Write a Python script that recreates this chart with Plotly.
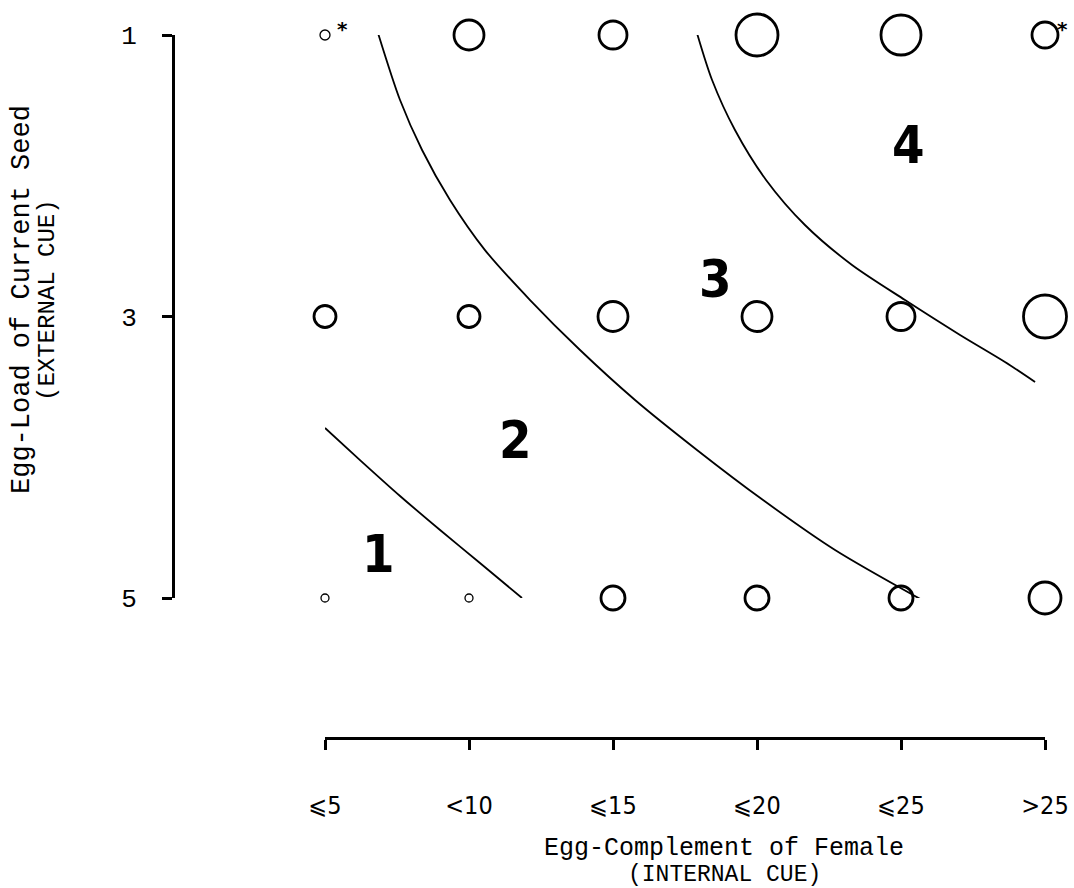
import plotly.graph_objects as go

# Egg-complement classes (internal cue) and egg-load levels (external cue)
complement_labels = ["⩽5", "<10", "⩽15", "⩽20", "⩽25", ">25"]
complement_pos = [0, 1, 2, 3, 4, 5]
load_levels = [1, 3, 5]

# Relative circle sizes for each egg-load row
size_load1 = [10, 30, 28, 42, 40, 26]
size_load3 = [22, 22, 30, 30, 28, 43]
size_load5 = [8, 8, 24, 24, 24, 32]

# Cells flagged with an asterisk
star_x = [0, 5]
star_y = [1, 1]

# Boundary curves between the numbered zones
b12_x = [0.0, 0.243, 0.521, 0.799, 1.076, 1.368]
b12_y = [3.792, 4.020, 4.275, 4.517, 4.751, 5.0]

b23_x = [0.368, 0.521, 0.674, 0.868, 1.111, 1.424, 1.771, 2.153, 2.583, 3.042, 3.542, 4.146]
b23_y = [0.986, 1.462, 1.817, 2.172, 2.528, 2.883, 3.238, 3.593, 3.948, 4.304, 4.659, 5.014]

b34_x = [2.583, 2.688, 2.847, 3.063, 3.333, 3.660, 4.028, 4.410, 4.722, 4.931]
b34_y = [0.986, 1.320, 1.675, 2.030, 2.350, 2.634, 2.883, 3.131, 3.323, 3.465]

# Zone numbers and where they sit
zone_names = ["1", "2", "3", "4"]
zone_x = [0.37, 1.32, 2.715, 4.05]
zone_y = [4.69, 3.88, 2.73, 1.78]

condensed = "DejaVu Sans Condensed, DejaVu Sans, sans-serif"

fig = go.Figure()

row_sizes = [size_load1, size_load3, size_load5]
for level, sizes in zip(load_levels, row_sizes):
    widths = [1.3 if s < 12 else 2.8 for s in sizes]
    fig.add_trace(go.Scatter(
        x=complement_pos,
        y=[level] * len(complement_pos),
        mode="markers",
        marker=dict(symbol="circle-open", size=sizes, color="black", opacity=1,
                    line=dict(color="black", width=widths)),
        cliponaxis=False,
        showlegend=False,
        hoverinfo="skip",
    ))

for bx, by in [(b12_x, b12_y), (b23_x, b23_y), (b34_x, b34_y)]:
    fig.add_trace(go.Scatter(
        x=bx, y=by, mode="lines",
        line=dict(color="black", width=1.8, shape="spline", smoothing=0.8),
        cliponaxis=False,
        showlegend=False,
        hoverinfo="skip",
    ))

for name, zx, zy in zip(zone_names, zone_x, zone_y):
    fig.add_annotation(
        x=zx, y=zy, text=name, showarrow=False,
        xanchor="center", yanchor="middle",
        font=dict(family=condensed, size=52, color="black", weight="bold"),
    )

for sx, sy in zip(star_x, star_y):
    fig.add_annotation(
        x=sx, y=sy, text="*", showarrow=False, xshift=17, yshift=6,
        xanchor="center", yanchor="middle",
        font=dict(family="DejaVu Sans", size=20, color="black", weight="bold"),
    )

# Axis titles
title_font = dict(family="Liberation Mono", color="black")
fig.add_annotation(
    xref="paper", yref="paper", x=22 / 1074, y=1 - 300 / 888,
    xanchor="center", yanchor="middle",
    text="Egg-Load of Current Seed", textangle=-90, showarrow=False,
    font=dict(size=27, **title_font),
)
fig.add_annotation(
    xref="paper", yref="paper", x=47 / 1074, y=1 - 300 / 888,
    xanchor="center", yanchor="middle",
    text="(EXTERNAL CUE)", textangle=-90, showarrow=False,
    font=dict(size=24, **title_font),
)
fig.add_annotation(
    xref="paper", yref="paper", x=724 / 1074, y=1 - 848 / 888,
    xanchor="center", yanchor="middle",
    text="Egg-Complement of Female", showarrow=False,
    font=dict(size=25, **title_font),
)
fig.add_annotation(
    xref="paper", yref="paper", x=724 / 1074, y=1 - 875 / 888,
    xanchor="center", yanchor="middle",
    text="(INTERNAL CUE)", showarrow=False,
    font=dict(size=23, **title_font),
)

fig.update_layout(
    width=1074, height=888,
    margin=dict(l=0, r=0, t=0, b=0, pad=0, autoexpand=False),
    paper_bgcolor="white", plot_bgcolor="white",
    showlegend=False,
    xaxis=dict(
        domain=[325 / 1074, 1045 / 1074],
        range=[0, 5],
        anchor="free", position=1 - 738 / 888,
        automargin=False,
        tickmode="array", tickvals=complement_pos, ticktext=complement_labels,
        showline=True, linecolor="black", linewidth=3,
        ticks="outside", ticklen=10, tickwidth=3, tickcolor="black",
        ticklabelstandoff=34,
        tickfont=dict(family=condensed, size=25, color="black"),
        showgrid=False, zeroline=False, fixedrange=True,
    ),
    yaxis=dict(
        domain=[1 - 598 / 888, 1 - 35 / 888],
        range=[5, 1],
        anchor="free", position=173 / 1074,
        automargin=False,
        tickmode="array", tickvals=load_levels, ticktext=[str(v) for v in load_levels],
        showline=True, linecolor="black", linewidth=3,
        ticks="outside", ticklen=10, tickwidth=3, tickcolor="black",
        ticklabelstandoff=20,
        tickfont=dict(family="Liberation Mono", size=26, color="black"),
        showgrid=False, zeroline=False, fixedrange=True,
    ),
)

fig.write_html("out.html")
